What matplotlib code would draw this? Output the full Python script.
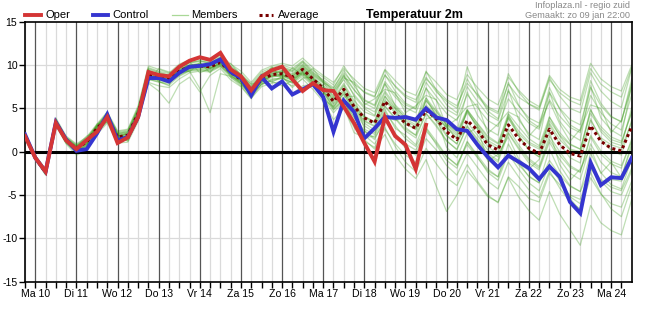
import matplotlib
matplotlib.use("Agg")
import matplotlib.pyplot as plt
import numpy as np
from matplotlib.lines import Line2D

plt.rcParams["font.family"] = ["Liberation Sans", "DejaVu Sans"]

# 6-hourly steps, starting Zo 9 18:00, step 1 = Ma 10 00:00
day_labels = ["Ma 10", "Di 11", "Wo 12", "Do 13", "Vr 14", "Za 15", "Zo 16", "Ma 17",
              "Di 18", "Wo 19", "Do 20", "Vr 21", "Za 22", "Zo 23", "Ma 24"]

oper = [1.8, -0.7, -2.3, 3.3, 1.3, 0.3, 1.35, 2.3, 4.0, 1.0, 1.65, 4.0,
        9.2, 8.85, 8.7, 9.8, 10.5, 10.9, 10.6, 11.4, 9.5, 8.7, 7.1, 8.65,
        9.4, 9.8, 8.35, 7.0, 7.9, 7.1, 7.0, 5.2, 3.3, 1.0, -1.15, 4.0,
        1.8, 0.8, -2.0, 3.1]

control = [2.0, -0.7, -2.3, 3.4, 1.4, 0.1, 0.3, 2.1, 4.3, 1.3, 1.7, 4.0,
           8.5, 8.5, 8.1, 9.1, 9.8, 9.9, 10.1, 10.65, 9.2, 8.5, 6.5, 8.6,
           7.3, 8.1, 6.6, 7.2, 7.8, 6.3, 2.3, 5.9, 4.6, 1.55, 2.7, 4.0,
           3.9, 4.0, 3.7, 5.0, 3.95, 3.65, 2.6, 2.4, 0.8, -0.6, -1.8, -0.45,
           -1.15, -1.9, -3.15, -1.7, -2.9, -5.8, -7.1, -1.25, -3.85, -2.95, -3.05, -0.7]

average = [1.9, -0.7, -2.4, 3.4, 1.3, 0.4, 1.1, 2.7, 3.9, 1.7, 1.9, 4.4,
           8.9, 8.6, 8.4, 9.3, 9.8, 9.9, 9.8, 10.3, 9.2, 8.3, 7.0, 8.3,
           8.9, 9.0, 8.6, 9.5, 8.4, 7.3, 5.8, 7.2, 5.2, 3.9, 3.3, 5.8,
           4.4, 3.3, 2.7, 4.8, 3.8, 2.3, 1.4, 3.6, 2.5, 0.8, 0.2, 3.1,
           1.5, 0.4, -0.2, 2.6, 0.8, -0.2, -0.5, 3.0, 1.2, 0.4, 0.1, 2.9]

members = [
    [2.0, -0.5, -2.2, 3.8, 1.6, 0.6, 1.5, 3.0, 4.5, 2.2, 2.4, 5.0,
     9.6, 9.2, 8.8, 9.8, 10.3, 10.5, 10.2, 10.9, 9.8, 8.9, 7.6, 9.0,
     9.5, 9.8, 9.4, 10.4, 9.2, 8.3, 7.4, 9.1, 7.8, 6.9, 6.4, 8.8,
     7.6, 6.5, 6.0, 8.4, 7.2, 6.0, 5.3, 7.9, 6.6, 5.2, 4.6, 7.8,
     6.3, 5.5, 5.0, 8.3, 6.8, 5.9, 5.4, 9.6, 7.8, 6.9, 6.3, 9.7],
    [2.0, -0.8, -2.6, 3.1, 1.1, -0.2, 0.4, 2.2, 3.5, 1.2, 1.4, 3.8,
     8.4, 8.0, 7.9, 8.8, 9.4, 9.6, 9.5, 10.0, 8.9, 7.9, 6.6, 7.8,
     8.2, 8.4, 7.9, 8.7, 7.6, 6.2, 4.5, 5.8, 3.9, 2.4, 1.6, 3.5,
     2.1, 0.9, 0.2, 2.4, 1.0, -0.6, -1.5, 0.8, -0.7, -2.2, -2.9, 0.0,
     -1.5, -2.8, -3.6, -1.0, -2.7, -4.0, -4.6, -1.8, -3.2, -4.1, -4.5, -1.9],
    [1.8, -0.6, -2.3, 3.5, 1.5, 0.2, 0.8, 2.8, 4.2, 1.5, 1.6, 4.6,
     9.2, 8.9, 8.6, 9.6, 10.0, 10.1, 9.9, 10.6, 9.5, 8.5, 7.2, 8.7,
     9.3, 9.1, 8.9, 9.9, 8.8, 7.9, 6.9, 8.3, 6.6, 5.2, 4.6, 7.0,
     5.4, 4.2, 3.7, 6.2, 4.7, 3.1, 2.3, 4.9, 3.2, 1.6, 0.9, 4.1,
     2.4, 1.1, 0.5, 3.6, 1.9, 0.8, 0.3, 4.4, 2.6, 1.4, 1.0, 4.6],
    [1.9, -0.7, -2.5, 3.3, 1.2, 0.5, 1.3, 2.5, 3.6, 1.8, 2.1, 4.0,
     8.7, 8.5, 8.2, 9.0, 9.5, 9.7, 9.6, 10.2, 9.0, 8.0, 6.8, 8.0,
     8.6, 8.8, 8.3, 9.2, 8.0, 7.0, 5.5, 6.6, 4.7, 3.3, 2.5, 5.2,
     3.8, 2.4, 1.6, 4.4, 3.1, 1.3, 0.2, 3.0, 1.5, -0.2, -1.0, 2.6,
     0.8, -0.8, -1.7, 1.8, 0.0, -1.6, -2.3, 1.9, 0.1, -1.1, -1.6, 1.2],
    [2.1, -0.4, -2.0, 3.9, 1.8, 0.9, 1.7, 3.2, 4.6, 2.4, 2.6, 5.3,
     9.9, 9.5, 9.1, 10.1, 10.6, 10.8, 10.5, 11.2, 10.1, 9.3, 8.0, 9.4,
     9.9, 10.2, 9.9, 10.8, 9.7, 8.8, 8.0, 9.6, 8.4, 7.3, 6.8, 9.5,
     8.2, 7.0, 6.5, 9.2, 8.0, 6.6, 6.0, 8.9, 7.4, 6.1, 5.4, 8.6,
     7.1, 5.9, 5.2, 8.8, 7.2, 6.3, 5.9, 10.2, 8.4, 7.5, 7.0, 10.0],
    [1.7, -0.9, -2.7, 3.0, 0.9, -0.4, 0.2, 2.0, 3.3, 1.0, 1.1, 3.5,
     8.0, 7.6, 7.4, 8.4, 9.1, 9.3, 9.2, 9.8, 8.6, 7.6, 6.2, 7.5,
     7.9, 8.1, 7.6, 8.4, 7.2, 5.8, 3.7, 5.0, 2.8, 1.2, 0.5, 2.6,
     0.9, -0.4, -1.2, 1.5, 0.2, -1.6, -2.7, -0.2, -1.8, -3.4, -4.3, -1.2,
     -2.9, -4.4, -5.3, -2.2, -4.2, -5.8, -6.6, -3.0, -4.9, -6.0, -6.4, -3.4],
    [1.9, -0.8, -2.5, 3.2, 1.0, 0.0, 0.7, 2.4, 3.7, 1.4, 1.5, 3.9,
     8.5, 8.2, 8.0, 8.9, 9.4, 9.5, 9.3, 9.9, 8.8, 7.8, 6.5, 7.7,
     8.3, 8.5, 8.0, 9.0, 7.8, 6.5, 4.9, 6.0, 3.5, 1.9, 0.9, 2.8,
     0.6, -1.2, -2.3, 0.4, -1.4, -3.0, -3.9, -1.5, -3.4, -5.0, -5.9, -3.0,
     -5.2, -6.8, -7.9, -4.6, -7.2, -9.0, -10.8, -6.2, -8.2, -9.1, -9.6, -5.5],
    [1.8, -0.7, -2.4, 3.6, 1.4, 0.4, 1.2, 2.9, 4.0, 2.0, 2.2, 4.8,
     9.4, 8.8, 8.5, 9.4, 9.9, 10.0, 10.0, 10.4, 9.3, 8.4, 7.1, 8.4,
     9.0, 9.3, 8.7, 9.7, 8.5, 7.6, 6.2, 7.9, 5.9, 4.6, 4.1, 6.8,
     5.1, 4.0, 3.4, 5.9, 4.6, 3.0, 2.1, 4.5, 3.0, 1.3, 0.6, 3.9,
     2.1, 0.9, 0.3, 3.3, 1.4, 0.2, -0.2, 3.6, 1.6, 0.8, 0.4, 3.4],
    [2.0, -0.6, -2.3, 3.4, 1.3, 0.3, 1.0, 2.6, 3.9, 1.7, 1.8, 4.2,
     7.9, 7.0, 5.6, 7.8, 8.6, 6.9, 8.8, 9.6, 8.3, 7.5, 6.1, 7.9,
     8.1, 7.6, 8.2, 9.1, 8.0, 6.8, 5.1, 6.9, 5.0, 3.6, 3.0, 6.0,
     4.4, 3.2, 2.6, 5.4, 4.2, 2.8, 1.9, 4.8, 3.3, 1.8, 1.0, 4.4,
     2.9, 1.5, 0.7, 4.0, 2.2, 0.9, 0.3, 4.8, 2.9, 1.7, 1.2, 4.5],
    [1.9, -0.7, -2.4, 3.3, 1.4, 0.5, 0.9, 2.5, 3.8, 1.6, 1.7, 4.3,
     8.6, 8.7, 8.3, 9.1, 9.3, 7.3, 4.5, 9.0, 8.7, 8.1, 6.7, 8.2,
     8.8, 8.9, 8.5, 9.3, 8.3, 7.3, 6.0, 7.6, 5.4, 4.0, 3.5, 6.4,
     5.0, 3.6, 2.9, 5.1, 3.5, 1.8, 0.9, 3.4, 1.9, 0.2, -0.6, 2.2,
     0.5, -1.0, -1.9, 1.4, -0.4, -1.8, -2.4, 1.7, -0.3, -1.4, -1.9, 1.5],
    [2.0, -0.6, -2.3, 3.5, 1.4, 0.4, 1.1, 2.8, 4.0, 1.8, 2.0, 4.5,
     9.1, 8.8, 8.6, 9.5, 10.0, 10.2, 10.0, 10.6, 9.4, 8.6, 7.3, 8.6,
     9.2, 9.4, 9.0, 10.0, 8.9, 8.0, 7.3, 9.4, 7.6, 6.0, 5.4, 8.9,
     7.0, 5.6, 5.0, 9.3, 7.1, 5.4, 4.5, 9.8, 6.8, 4.7, 3.8, 8.0,
     5.4, 3.6, 2.8, 7.4, 4.9, 3.1, 2.4, 8.2, 5.6, 4.1, 3.4, 8.4],
    [1.8, -0.8, -2.6, 3.2, 1.2, 0.1, 0.8, 2.5, 3.8, 1.5, 1.6, 4.0,
     8.6, 8.3, 8.1, 9.1, 9.6, 9.8, 9.7, 10.1, 9.0, 8.1, 6.9, 8.1,
     8.7, 8.7, 8.2, 9.1, 7.9, 6.9, 5.3, 6.7, 4.6, 3.0, 2.2, 4.6,
     3.0, 1.5, 0.6, 2.8, 1.2, -0.5, -1.6, 1.1, -0.6, -2.4, -3.3, -0.2,
     -2.0, -3.6, -4.5, -1.4, -3.4, -5.2, -6.0, -2.4, -4.8, -6.6, -7.5, -4.0],
    [1.9, -0.5, -2.2, 3.6, 1.6, 0.7, 1.4, 3.0, 4.3, 2.1, 2.3, 4.9,
     9.3, 9.0, 8.7, 9.7, 10.2, 10.4, 10.2, 10.8, 9.6, 8.7, 7.4, 8.8,
     9.4, 9.6, 9.2, 10.1, 9.0, 8.1, 7.0, 8.7, 7.1, 5.9, 5.3, 7.8,
     6.3, 5.1, 4.5, 7.3, 5.9, 4.4, 3.6, 6.6, 5.1, 3.6, 2.9, 6.1,
     4.6, 3.3, 2.6, 6.0, 4.1, 2.8, 2.2, 6.5, 4.5, 3.2, 2.5, 6.6],
    [2.0, -0.7, -2.5, 3.4, 1.2, 0.2, 0.9, 2.6, 3.8, 1.6, 1.7, 4.1,
     8.8, 8.4, 8.2, 9.2, 9.7, 9.8, 9.7, 10.2, 9.1, 8.2, 6.9, 8.2,
     8.8, 8.9, 8.4, 9.4, 8.2, 7.1, 5.6, 7.0, 4.9, 3.5, 2.9, 5.3,
     3.9, 2.6, 1.9, 4.4, 2.9, 1.2, 0.3, 2.9, 1.3, -0.4, -1.2, 2.1,
     0.3, -1.3, -2.1, 1.1, -0.9, -2.5, -3.2, 0.9, -1.2, -2.4, -2.9, 0.6],
    [1.9, -0.7, -2.4, 3.3, 1.2, 0.2, 0.6, 2.3, 4.1, 1.2, 1.6, 4.0,
     8.5, 8.5, 8.1, 9.0, 9.7, 9.9, 10.0, 10.5, 9.2, 8.4, 6.6, 8.5,
     7.4, 8.0, 6.7, 7.6, 7.8, 6.4, 2.8, 5.2, 2.2, 1.6, 1.8, 4.2,
     3.6, 3.9, 3.5, 4.8, 3.6, 2.9, 1.5, 2.5, 0.6, -0.9, -1.8, -0.6,
     -1.3, -2.2, -3.4, -1.9, -3.1, -5.4, -6.8, -1.5, -3.9, -3.2, -3.4, -1.0],
    [1.8, -0.6, -2.3, 3.6, 1.5, 0.4, 1.2, 2.9, 4.2, 1.9, 2.0, 4.7,
     9.1, 8.7, 8.4, 9.4, 9.9, 10.0, 9.9, 10.5, 9.3, 8.4, 7.1, 8.4,
     9.0, 9.2, 8.7, 9.6, 8.5, 7.4, 6.0, 7.7, 5.6, 4.1, 3.4, 6.4,
     4.6, 3.3, 2.6, 5.9, 4.3, 2.7, 1.6, 4.7, 2.9, 1.1, 0.3, 3.9,
     1.8, 0.2, -0.6, 3.1, 0.9, -0.7, -1.3, 3.8, 1.4, 0.2, -0.4, 3.7],
    [2.1, -0.5, -2.1, 3.7, 1.7, 0.8, 1.6, 3.1, 4.4, 2.3, 2.5, 5.1,
     9.7, 9.3, 9.0, 9.9, 10.5, 10.7, 10.4, 11.0, 9.9, 9.0, 7.8, 9.2,
     9.7, 10.0, 9.6, 10.5, 9.4, 8.6, 7.7, 9.9, 8.1, 6.8, 6.3, 9.4,
     7.5, 6.3, 5.7, 8.6, 6.9, 5.8, 5.0, 8.4, 6.4, 5.0, 4.4, 9.0,
     6.9, 5.5, 4.8, 8.6, 6.4, 5.0, 4.5, 9.1, 7.0, 5.8, 5.1, 9.6],
    [1.8, -0.8, -2.5, 3.1, 1.0, 0.0, 0.5, 2.2, 3.5, 1.3, 1.3, 3.7,
     8.3, 8.1, 7.7, 8.7, 9.3, 9.4, 9.4, 9.9, 8.8, 7.9, 6.6, 7.8,
     8.4, 8.5, 8.0, 8.9, 7.7, 6.4, 4.8, 5.9, 3.2, 1.4, 0.3, 2.0,
     -0.4, -2.0, -3.1, -0.9, -4.0, -6.9, -5.0, -2.2, -3.6, -5.2, -5.8, -2.9,
     -4.0, -5.4, -5.8, -2.5, -3.8, -5.0, -5.5, -2.0, -3.4, -4.6, -5.0, -2.2],
    [1.9, -0.6, -2.4, 3.5, 1.3, 0.3, 1.1, 2.7, 3.9, 1.7, 1.9, 4.4,
     8.9, 8.6, 8.4, 9.3, 9.8, 9.9, 9.8, 10.3, 9.2, 8.3, 7.0, 8.3,
     8.9, 9.0, 8.6, 9.5, 8.4, 7.3, 5.8, 7.2, 5.2, 3.9, 3.3, 5.8,
     5.0, 2.8, 1.9, 6.2, 4.1, 1.9, 0.9, 4.8, 2.6, 0.6, -0.3, 4.3,
     1.9, 0.2, -0.6, 4.0, 1.8, 0.3, 0.0, 4.9, 2.3, 1.1, 0.7, 5.1],
    [2.0, -0.6, -2.3, 3.4, 1.5, 0.6, 1.3, 2.8, 4.1, 2.0, 2.1, 4.6,
     9.0, 8.7, 8.5, 9.5, 10.0, 10.1, 10.0, 10.5, 9.4, 8.5, 7.2, 8.5,
     9.1, 9.3, 8.8, 9.8, 8.7, 7.6, 6.5, 8.8, 6.4, 5.0, 4.2, 7.9,
     5.3, 3.8, 3.1, 7.4, 4.9, 3.2, 2.4, 6.9, 4.2, 2.6, 1.9, 7.2,
     3.7, 2.1, 1.4, 6.9, 3.5, 2.0, 1.3, 7.6, 3.9, 2.5, 1.8, 7.8],
    [1.9, -0.6, -2.2, 3.7, 1.2, 0.6, 1.8, 2.4, 4.6, 1.4, 2.3, 4.4,
     8.1, 9.6, 9.2, 9.0, 10.4, 9.1, 9.6, 10.0, 10.2, 8.8, 7.8, 8.0,
     9.8, 8.4, 9.7, 8.8, 9.6, 8.0, 6.3, 8.5, 8.0, 5.4, 6.1, 7.2,
     6.8, 4.5, 5.3, 6.5, 6.0, 2.9, 3.8, 5.2, 5.5, 2.1, 3.2, 4.6,
     4.0, 1.8, 3.1, 5.8, 3.2, 1.2, 2.6, 5.4, 5.0, 2.2, 3.6, 7.4],
    [2.0, -0.9, -2.4, 3.1, 1.6, 0.1, 0.7, 3.2, 3.4, 2.1, 1.2, 3.9,
     9.5, 8.1, 7.6, 9.9, 9.2, 10.3, 9.1, 10.7, 8.6, 7.8, 6.4, 8.9,
     8.0, 8.7, 7.4, 8.5, 8.6, 6.0, 5.2, 6.3, 6.4, 2.6, 2.0, 4.9,
     2.7, 1.9, 0.8, 3.8, 4.1, 0.5, -0.7, 2.1, 2.8, -1.1, -0.3, 1.7,
     -0.8, -2.0, -0.9, 2.3, -1.5, -3.3, -2.0, 0.4, -2.5, -1.2, -3.0, 1.0],
    [1.8, -0.7, -2.5, 3.4, 1.3, 0.3, 1.0, 2.6, 4.0, 1.7, 1.8, 4.3,
     8.7, 8.6, 8.3, 9.1, 9.6, 9.8, 9.6, 10.2, 9.1, 8.2, 6.8, 8.1,
     8.7, 8.8, 8.3, 9.2, 8.1, 7.0, 5.0, 6.1, 4.0, 2.4, 1.4, 3.8,
     1.9, 0.4, -0.4, 2.7, 0.8, -1.0, -1.9, 1.2, -0.4, -2.0, -2.9, 0.9,
     -1.2, -2.9, -3.6, 0.3, -2.2, -3.9, -4.6, -0.2, -2.4, -3.8, -4.3, -0.8],
    [2.0, -0.5, -2.1, 3.6, 1.6, 0.7, 1.5, 3.0, 4.3, 2.1, 2.3, 4.9,
     9.5, 9.1, 8.8, 9.8, 10.3, 10.5, 10.3, 10.8, 9.7, 8.8, 7.5, 8.9,
     9.6, 9.7, 9.3, 10.3, 9.1, 8.2, 7.1, 8.9, 7.2, 5.6, 5.0, 8.1,
     6.6, 5.4, 4.9, 8.0, 6.4, 4.9, 4.2, 7.5, 5.8, 4.3, 3.6, 7.0,
     5.3, 3.9, 3.3, 6.8, 5.0, 3.7, 3.1, 7.4, 5.3, 4.0, 3.5, 7.9],
]

W, H = 656, 332
fig = plt.figure(figsize=(W / 100, H / 100), dpi=100)
ax = fig.add_axes([25 / W, 1 - 281.7 / H, (631.7 - 25) / W, (281.7 - 21.7) / H])

t = (np.arange(len(average)) - 1) / 4.0  # days since Ma 10 00:00

# grid
for k in np.arange(-0.25, 14.5, 0.25):
    if abs(k - round(k)) < 1e-6:
        ax.axvline(k, color="#555555", lw=0.9, zorder=1)
    else:
        ax.axvline(k, color="#dadada", lw=0.9, zorder=0)
for yv in [-10, -5, 5, 10]:
    ax.axhline(yv, color="#dadada", lw=0.9, zorder=0)

for m in members:
    ax.plot(t, m, color="#3c9c1c", alpha=0.33, lw=0.9, zorder=2)

ax.axhline(0, color="black", lw=2.2, zorder=3)
ax.plot(t, average, color="#780000", lw=2.2, ls=(0, (1, 1)), zorder=4)
ax.plot(t, control, color="#3535d0", lw=2.8, zorder=5, solid_joinstyle="miter")
ax.plot(t[:len(oper)], oper, color="#d43535", lw=2.8, zorder=6, solid_joinstyle="miter")

ax.set_xlim(-0.25, 14.5)
ax.set_ylim(-15, 15)
ax.set_yticks([-15, -10, -5, 0, 5, 10, 15])
ax.set_yticklabels(["-15", "-10", "-5", "0", "5", "10", "15"])
ax.set_xticks(np.arange(0, 15))
ax.set_xticklabels(day_labels)
ax.set_xticks(np.arange(-0.25, 14.5, 0.25), minor=True)
ax.tick_params(axis="both", which="major", length=4, width=1, labelsize=7.6,
               colors="black", pad=1.5)
ax.tick_params(axis="x", which="minor", length=4, width=1)
for s in ax.spines.values():
    s.set_linewidth(1.2)
    s.set_color("black")

# legend
tr = fig.transFigure


def px(x, y):
    return x / W, 1 - y / H


leg = [("Oper", "#d43535", "-", 2.8, 25, 41, 45),
       ("Control", "#3535d0", "-", 2.8, 93, 108, 112),
       ("Members", "#a9d897", "-", 0.9, 172, 188, 191),
       ("Average", "#780000", (0, (1, 1)), 2.2, 259, 273, 278)]
for name, c, ls, lw, x0, x1, xt in leg:
    (a0, b0), (a1, _) = px(x0, 15), px(x1, 15)
    fig.add_artist(Line2D([a0, a1], [b0, b0], color=c, ls=ls, lw=lw, transform=tr))
    fig.text(*px(xt, 15), name, fontsize=8, va="center", ha="left")

fig.text(*px(414, 15), "Temperatuur 2m", fontsize=9, fontweight="bold",
         va="center", ha="center")
fig.text(*px(630, 6), "Infoplaza.nl - regio zuid", fontsize=6.6, color="#888888",
         va="center", ha="right")
fig.text(*px(630, 16), "Gemaakt: zo 09 jan 22:00", fontsize=6.6, color="#888888",
         va="center", ha="right")

fig.savefig("out.png", dpi=100)
